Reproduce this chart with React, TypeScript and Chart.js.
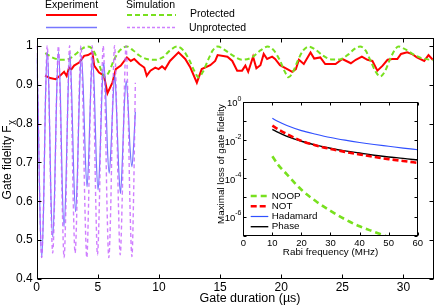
import React, { useEffect, useRef } from "react";
import { Chart, registerables } from "chart.js";
Chart.register(...registerables);

const FONT = '"Liberation Sans", Arial, Helvetica, sans-serif';

// ---------- main chart data ----------
const X_TICKS = [0, 5, 10, 15, 20, 25, 30];
const X_TICK_LABELS = ["0", "5", "10", "15", "20", "25", "30"];
const Y_TICKS = [0.4, 0.5, 0.6, 0.7, 0.8, 0.9, 1.0];
const Y_TICK_LABELS = ["0.4", "0.5", "0.6", "0.7", "0.8", "0.9", "1"];

// Experiment, protected (red)
const RED_T = [0.68, 1.1, 1.55, 1.97, 2.24, 2.45, 2.65, 2.85, 3.06, 3.47, 3.88, 4.2, 4.56, 4.7, 5.1, 5.5, 5.79, 6.2, 6.47, 6.88, 7.38, 7.7, 7.98, 8.4, 8.8, 9.0, 9.3, 9.7, 9.97, 10.25, 10.5, 10.9, 11.6, 12.15, 12.57, 13.1, 13.5, 14.2, 14.6, 14.8, 15.6, 16.0, 16.4, 16.8, 17.07, 17.3, 17.7, 17.97, 18.3, 18.57, 18.85, 19.26, 19.5, 19.9, 20.5, 20.9, 21.2, 21.45, 21.85, 22.4, 22.7, 23.2, 23.6, 24.0, 24.45, 25.0, 25.7, 26.1, 26.6, 27.05, 27.46, 27.87, 28.3, 28.7, 29.1, 29.5, 29.8, 30.3, 30.7, 31.1, 31.7, 32.05, 32.4];
const RED_F = [0.923, 0.917, 0.914, 0.925, 0.933, 0.922, 0.944, 0.940, 0.949, 0.957, 0.974, 0.976, 0.983, 0.949, 0.931, 0.923, 0.878, 0.906, 0.940, 0.949, 0.970, 0.961, 0.966, 0.953, 0.944, 0.923, 0.936, 0.944, 0.940, 0.947, 0.940, 0.961, 0.983, 0.966, 0.944, 0.905, 0.940, 0.950, 0.961, 0.976, 0.972, 0.961, 0.936, 0.936, 0.949, 0.933, 0.972, 0.942, 0.950, 0.979, 0.966, 0.972, 0.966, 0.950, 0.940, 0.933, 0.940, 0.964, 0.953, 0.983, 0.967, 0.970, 0.953, 0.953, 0.953, 0.966, 0.955, 0.964, 0.972, 0.964, 0.961, 0.936, 0.949, 0.964, 0.966, 0.966, 0.979, 0.983, 0.979, 0.970, 0.961, 0.976, 0.964];

// Experiment, unprotected (blue)
const BLUE_T = [0.0, 0.11, 0.26, 0.41, 0.56, 0.71, 0.86, 1.01, 1.16, 1.31, 1.46, 1.62, 1.78, 1.94, 2.09, 2.24, 2.39, 2.55, 2.71, 2.87, 3.03, 3.18, 3.33, 3.49, 3.65, 3.81, 3.97, 4.12, 4.27, 4.42, 4.57, 4.72, 4.87, 5.02, 5.17, 5.33, 5.48, 5.63, 5.78, 5.93, 6.08, 6.24, 6.39, 6.55, 6.7, 6.85, 7.0, 7.16, 7.32, 7.47, 7.63, 7.79, 7.94, 8.07];
const BLUE_F = [0.97, 0.85, 0.58, 0.455, 0.58, 0.85, 0.985, 0.87, 0.62, 0.508, 0.62, 0.86, 0.985, 0.87, 0.64, 0.534, 0.64, 0.86, 0.98, 0.87, 0.67, 0.573, 0.67, 0.87, 0.975, 0.89, 0.72, 0.637, 0.73, 0.89, 0.97, 0.88, 0.71, 0.629, 0.71, 0.87, 0.956, 0.89, 0.74, 0.672, 0.74, 0.86, 0.925, 0.82, 0.69, 0.62, 0.70, 0.84, 0.91, 0.85, 0.74, 0.689, 0.75, 0.83];

// Simulation, protected (green)
const GREEN_T = [0.7, 1.0, 1.5, 2.1, 2.7, 3.2, 3.7, 4.15, 4.6, 5.0, 5.3, 5.57, 5.9, 6.3, 6.8, 7.38, 7.9, 8.4, 9.0, 9.7, 10.3, 10.9, 11.5, 12.0, 12.5, 12.9, 13.25, 13.6, 14.0, 14.4, 14.8, 15.3, 15.9, 16.8, 17.6, 18.3, 18.9, 19.4, 19.9, 20.3, 20.6, 21.0, 21.4, 21.8, 22.26, 22.8, 23.4, 24.1, 24.8, 25.5, 26.0, 26.45, 26.9, 27.3, 27.7, 28.1, 28.5, 28.9, 29.3, 29.6, 30.2, 30.8, 31.5, 32.4];
const GREEN_F = [0.981, 0.975, 0.967, 0.964, 0.967, 0.979, 0.992, 0.998, 0.990, 0.962, 0.935, 0.920, 0.932, 0.962, 0.988, 0.998, 0.988, 0.975, 0.966, 0.964, 0.970, 0.988, 0.998, 0.988, 0.962, 0.935, 0.919, 0.933, 0.962, 0.988, 0.998, 0.991, 0.978, 0.964, 0.970, 0.988, 0.998, 0.988, 0.962, 0.933, 0.919, 0.935, 0.965, 0.988, 0.998, 0.990, 0.975, 0.965, 0.965, 0.978, 0.992, 0.998, 0.988, 0.962, 0.935, 0.921, 0.935, 0.965, 0.990, 0.998, 0.990, 0.978, 0.968, 0.963];

// Simulation, unprotected (pink)
const PINK_T = [0.0, 0.11, 0.26, 0.41, 0.56, 0.71, 0.86, 1.01, 1.16, 1.31, 1.46, 1.62, 1.78, 1.93, 2.09, 2.24, 2.39, 2.54, 2.69, 2.84, 2.99, 3.14, 3.3, 3.46, 3.62, 3.78, 3.94, 4.1, 4.24, 4.39, 4.54, 4.68, 4.83, 4.97, 5.13, 5.29, 5.44, 5.6, 5.75, 5.9, 6.06, 6.21, 6.37, 6.52, 6.68, 6.83, 6.99, 7.15, 7.31, 7.47, 7.63, 7.79, 7.93, 8.07];
const PINK_F = [1.0, 0.85, 0.59, 0.455, 0.59, 0.85, 1.0, 0.86, 0.60, 0.467, 0.60, 0.86, 1.0, 0.85, 0.59, 0.455, 0.59, 0.85, 1.0, 0.86, 0.60, 0.467, 0.60, 0.86, 1.0, 0.85, 0.59, 0.455, 0.59, 0.85, 1.0, 0.86, 0.60, 0.462, 0.60, 0.86, 1.0, 0.85, 0.59, 0.455, 0.59, 0.85, 1.0, 0.86, 0.60, 0.462, 0.60, 0.86, 1.0, 0.85, 0.59, 0.458, 0.62, 0.905];

// ---------- inset data ----------
const INSET_X_TICKS = [0, 10, 20, 30, 40, 50, 60];
const INSET_X_TICK_LABELS = ["0", "10", "20", "30", "40", "50", "60"];
const INSET_Y_TICKS = [1, 1e-2, 1e-4, 1e-6];
const INSET_Y_TICK_EXPONENTS = ["0", "-2", "-4", "-6"];
const INSET_Y_DECADES = [1, 1e-1, 1e-2, 1e-3, 1e-4, 1e-5, 1e-6, 1e-7];

const RABI = [10, 12, 15, 20, 25, 30, 35, 40, 45, 50, 55, 60];
const NOOP = [1.4e-3, 5e-4, 1.6e-4, 2.5e-5, 6.3e-6, 2.0e-6, 7.2e-7, 3.1e-7, 1.6e-7, 8.5e-8, null, null];
const NOT = [0.056, 0.036, 0.0204, 0.0090, 0.0052, 0.0034, 0.0024, 0.00175, 0.0013, 0.0010, 0.0008, 0.00064];
const HADAMARD = [0.135, 0.092, 0.057, 0.031, 0.020, 0.0135, 0.0098, 0.0074, 0.0058, 0.0047, 0.0038, 0.0031];
const PHASE = [0.036, 0.025, 0.0155, 0.0086, 0.0054, 0.0037, 0.0027, 0.0021, 0.0016, 0.0013, 0.0011, 0.0009];
const INSET_LABELS = ["NOOP", "NOT", "Hadamard", "Phase"];

// ---------- styles ----------
const RED = "#ff0000";
const BLUE = "rgba(85,85,255,0.8)";
const GREEN = "#78e01e";
const PINK = "rgba(195,95,255,0.8)";

const pts = (xs: number[], ys: (number | null)[]) =>
  xs.map((x, i) => ({ x, y: ys[i] })).filter((p) => p.y !== null);

function seg(ctx: CanvasRenderingContext2D, x1: number, x2: number, y: number, color: string, w: number, dash: number[]) {
  ctx.save();
  ctx.strokeStyle = color;
  ctx.lineWidth = w;
  ctx.setLineDash(dash);
  ctx.beginPath();
  ctx.moveTo(x1, y);
  ctx.lineTo(x2, y);
  ctx.stroke();
  ctx.restore();
}

function line(ctx: CanvasRenderingContext2D, x1: number, y1: number, x2: number, y2: number) {
  ctx.beginPath();
  ctx.moveTo(x1, y1);
  ctx.lineTo(x2, y2);
  ctx.stroke();
}

const mainDecor = {
  id: "mainDecor",
  afterDraw(chart: any) {
    const { ctx, chartArea: a, scales } = chart;
    ctx.save();
    ctx.strokeStyle = "#000";
    ctx.lineWidth = 1;
    const L = Math.round(a.left) + 0.5, R = Math.round(a.right) - 0.5;
    const T = Math.round(a.top) + 0.5, B = Math.round(a.bottom) - 0.5;
    ctx.strokeRect(L, T, R - L, B - T);
    for (const v of X_TICKS) {
      const px = Math.round(scales.x.getPixelForValue(v)) + 0.5;
      line(ctx, px, B, px, B - 4);
      line(ctx, px, T, px, T + 4);
    }
    for (const v of Y_TICKS) {
      const py = Math.round(scales.y.getPixelForValue(v)) + 0.5;
      line(ctx, L, py, L + 4, py);
      line(ctx, R, py, R - 4, py);
    }
    ctx.fillStyle = "#000";
    // x title
    ctx.font = `12.5px ${FONT}`;
    ctx.textAlign = "center";
    ctx.textBaseline = "middle";
    ctx.fillText("Gate duration (\u00b5s)", 250, 299);
    // y title with subscript
    ctx.save();
    ctx.translate(8, 160);
    ctx.rotate(-Math.PI / 2);
    ctx.font = `12px ${FONT}`;
    const main = "Gate fidelity F";
    const wm = ctx.measureText(main).width;
    ctx.font = `9px ${FONT}`;
    const ws = ctx.measureText("\u03c7").width;
    const x0 = -(wm + ws) / 2;
    ctx.textAlign = "left";
    ctx.font = `12px ${FONT}`;
    ctx.fillText(main, x0, 0);
    ctx.font = `9px ${FONT}`;
    ctx.fillText("\u03c7", x0 + wm + 0.5, 4);
    ctx.restore();
    // legend
    ctx.font = `10.5px ${FONT}`;
    ctx.textAlign = "left";
    ctx.textBaseline = "middle";
    ctx.fillText("Experiment", 45, 5);
    ctx.fillText("Simulation", 126, 5);
    ctx.fillText("Protected", 190, 14);
    ctx.fillText("Unprotected", 189, 28);
    seg(ctx, 46, 97, 15, RED, 2, []);
    seg(ctx, 46, 97, 27.5, BLUE, 1.5, []);
    seg(ctx, 127, 176, 15, GREEN, 2, [5, 3]);
    seg(ctx, 127, 176, 27.5, PINK, 1.5, [3, 2]);
    ctx.restore();
  },
};

const insetDecor = {
  id: "insetDecor",
  afterDraw(chart: any) {
    const { ctx, chartArea: a, scales } = chart;
    ctx.save();
    ctx.strokeStyle = "#000";
    ctx.lineWidth = 1;
    const L = Math.round(a.left) + 0.5, R = Math.round(a.right) - 0.5;
    const T = Math.round(a.top) + 0.5, B = Math.round(a.bottom) - 0.5;
    ctx.strokeRect(L, T, R - L, B - T);
    for (const v of INSET_X_TICKS) {
      const px = Math.round(scales.x.getPixelForValue(v)) + 0.5;
      line(ctx, px, B, px, B - 3);
      line(ctx, px, T, px, T + 3);
    }
    for (const v of INSET_Y_DECADES) {
      const py = Math.round(scales.y.getPixelForValue(v)) + 0.5;
      line(ctx, L, py, L + 3, py);
      line(ctx, R, py, R - 3, py);
    }
    ctx.fillStyle = "#000";
    // y tick labels 10^n
    INSET_Y_TICKS.forEach((v, i) => {
      const py = scales.y.getPixelForValue(v);
      const exp = INSET_Y_TICK_EXPONENTS[i];
      ctx.font = `7px ${FONT}`;
      const we = ctx.measureText(exp).width;
      ctx.font = `9.5px ${FONT}`;
      const wb = ctx.measureText("10").width;
      const right = 36.5;
      ctx.textAlign = "left";
      ctx.textBaseline = "middle";
      ctx.fillText("10", right - we - wb, py + 2);
      ctx.font = `7px ${FONT}`;
      ctx.fillText(exp, right - we, py - 3);
    });
    // titles
    ctx.font = `9.8px ${FONT}`;
    ctx.textAlign = "center";
    ctx.textBaseline = "middle";
    ctx.fillText("Rabi frequency (MHz)", (a.left + a.right) / 2, 160);
    ctx.save();
    ctx.translate(16.5, 72);
    ctx.rotate(-Math.PI / 2);
    ctx.fillText("Maximal loss of gate fidelity", 0, 0);
    ctx.restore();
    // legend
    const rows = [104, 114.3, 124.5, 134.7];
    chart.data.datasets.forEach((ds: any, i: number) => {
      seg(ctx, 45.7, 63.3, rows[i], ds.borderColor, ds.borderWidth, ds.borderDash || []);
      ctx.fillStyle = "#000";
      ctx.font = `9.8px ${FONT}`;
      ctx.textAlign = "left";
      ctx.textBaseline = "middle";
      ctx.fillText(INSET_LABELS[i], 66.7, rows[i]);
    });
    ctx.restore();
  },
};

export default function App() {
  const mainRef = useRef<HTMLCanvasElement>(null);
  const insetRef = useRef<HTMLCanvasElement>(null);

  useEffect(() => {
    document.body.style.margin = "0";
    const tickFont = { family: FONT, size: 12 };
    const main = new Chart(mainRef.current!, {
      type: "line",
      data: {
        datasets: [
          { label: "Unprotected simulation", data: pts(PINK_T, PINK_F), borderColor: PINK, borderWidth: 1.4, borderDash: [4, 3], pointRadius: 0, cubicInterpolationMode: "monotone", fill: false },
          { label: "Unprotected experiment", data: pts(BLUE_T, BLUE_F), borderColor: BLUE, borderWidth: 1.2, pointRadius: 0, cubicInterpolationMode: "monotone", fill: false },
          { label: "Protected simulation", data: pts(GREEN_T, GREEN_F), borderColor: GREEN, borderWidth: 2, borderDash: [5, 3], pointRadius: 0, cubicInterpolationMode: "monotone", fill: false },
          { label: "Protected experiment", data: pts(RED_T, RED_F), borderColor: RED, borderWidth: 2, pointRadius: 0, tension: 0, fill: false },
        ],
      } as any,
      options: {
        responsive: false,
        animation: false,
        layout: { padding: { top: 38, right: 2, left: 0, bottom: 0 } },
        plugins: { legend: { display: false }, tooltip: { enabled: false } },
        scales: {
          x: {
            type: "linear",
            min: 0,
            max: 32.5,
            grid: { display: false, drawTicks: false },
            border: { display: false },
            ticks: { font: tickFont, color: "#000", padding: 1, autoSkip: false, maxRotation: 0, callback: (_v: any, i: number) => X_TICK_LABELS[i] },
            afterBuildTicks: (s: any) => { s.ticks = X_TICKS.map((v) => ({ value: v })); },
            afterFit: (s: any) => { s.height = 27; },
          },
          y: {
            type: "linear",
            min: 0.4,
            max: 1.02,
            grid: { display: false, drawTicks: false },
            border: { display: false },
            ticks: { font: tickFont, color: "#000", padding: 4, autoSkip: false, callback: (_v: any, i: number) => Y_TICK_LABELS[i] },
            afterBuildTicks: (s: any) => { s.ticks = Y_TICKS.map((v) => ({ value: v })); },
            afterFit: (s: any) => { s.width = 36.7; },
          },
        },
      } as any,
      plugins: [mainDecor],
    });

    const inset = new Chart(insetRef.current!, {
      type: "line",
      data: {
        datasets: [
          { label: "NOOP", data: pts(RABI, NOOP), borderColor: GREEN, borderWidth: 2.6, borderDash: [6, 4], pointRadius: 0, cubicInterpolationMode: "monotone", fill: false },
          { label: "NOT", data: pts(RABI, NOT), borderColor: RED, borderWidth: 2.6, borderDash: [6, 3], pointRadius: 0, cubicInterpolationMode: "monotone", fill: false },
          { label: "Hadamard", data: pts(RABI, HADAMARD), borderColor: "#3050ff", borderWidth: 1.2, pointRadius: 0, cubicInterpolationMode: "monotone", fill: false },
          { label: "Phase", data: pts(RABI, PHASE), borderColor: "#000", borderWidth: 1.4, pointRadius: 0, cubicInterpolationMode: "monotone", fill: false },
        ],
      } as any,
      options: {
        responsive: false,
        animation: false,
        layout: { padding: { top: 9.7, right: 15.3, left: 0, bottom: 0 } },
        plugins: { legend: { display: false }, tooltip: { enabled: false } },
        scales: {
          x: {
            type: "linear",
            min: 0,
            max: 60,
            grid: { display: false, drawTicks: false },
            border: { display: false },
            ticks: { font: { family: FONT, size: 9.5 }, color: "#000", padding: 2, autoSkip: false, maxRotation: 0, callback: (_v: any, i: number) => INSET_X_TICK_LABELS[i] },
            afterBuildTicks: (s: any) => { s.ticks = INSET_X_TICKS.map((v) => ({ value: v })); },
            afterFit: (s: any) => { s.height = 26.3; },
          },
          y: {
            type: "logarithmic",
            min: 1e-7,
            max: 1,
            grid: { display: false, drawTicks: false },
            border: { display: false },
            ticks: { display: false },
            afterFit: (s: any) => { s.width = 38.3; },
          },
        },
      } as any,
      plugins: [insetDecor],
    });

    return () => {
      main.destroy();
      inset.destroy();
    };
  }, []);

  return (
    <div style={{ position: "relative", width: 436, height: 306, background: "#fff" }}>
      <canvas ref={mainRef} width={436} height={306} style={{ position: "absolute", left: 0, top: 0, display: "block" }} />
      <canvas ref={insetRef} width={228} height={170} style={{ position: "absolute", left: 205, top: 92, display: "block" }} />
    </div>
  );
}
